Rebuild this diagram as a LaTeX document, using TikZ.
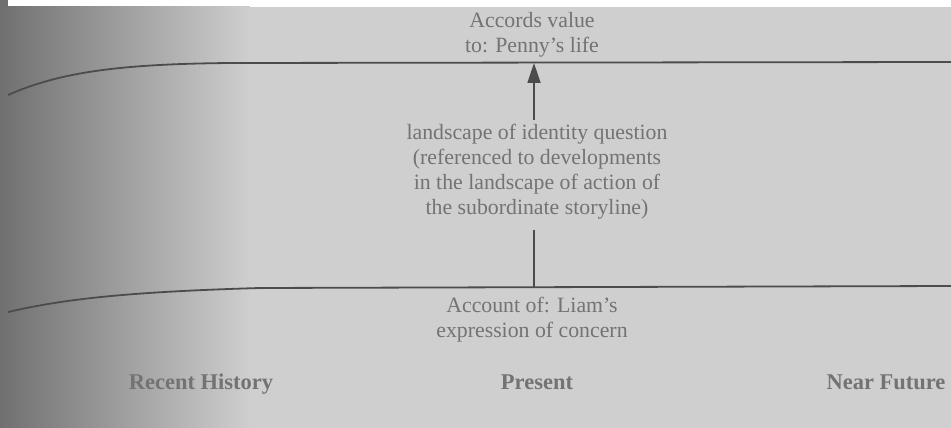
\documentclass[tikz,border=0pt]{standalone}
\usepackage{fontspec}
\setmainfont{Liberation Serif}
\usetikzlibrary{arrows.meta}
\definecolor{paper}{gray}{0.81}
\definecolor{edge}{gray}{0.44}
\definecolor{shadowmid}{gray}{0.74}
\definecolor{ink}{gray}{0.45}
\definecolor{rule}{gray}{0.30}
\tikzset{
  label text/.style={text=ink, align=center, inner sep=0pt, font=\fontsize{21.8}{25}\selectfont},
  era/.style={text=ink, inner sep=0pt, font=\fontsize{22.5}{24}\selectfont\bfseries},
  timeline/.style={draw=rule, line width=1.8pt},
  link/.style={draw=rule, line width=1.8pt},
}
\begin{document}
\begin{tikzpicture}[x=1pt, y=-1pt]
  % page and binding shadow
  \fill[white] (0,0) rectangle (951,428);
  \fill[paper] (0,7) rectangle (951,428);
  \shade[left color=edge, middle color=shadowmid, right color=paper] (0,7) rectangle (250,428);
  \fill[edge] (0,0) rectangle (8,7);
  \useasboundingbox (0,0) rectangle (951,428);

  % the two storylines
  \draw[timeline] (8,95) .. controls (60,72) and (120,64) .. (230,63) -- (951,62);
  \draw[timeline] (8,312) .. controls (60,300) and (120,292) .. (260,288) -- (951,286);

  % texts
  \node[label text] (accords) at (532,35) {Accords value\\to: Penny's life};
  \node[label text] (question) at (537,172) {landscape of identity question\\(referenced to developments\\in the landscape of action of\\the subordinate storyline)};
  \node[label text] (account) at (532,320) {Account of: Liam's\\expression of concern};
  \node[era] (recent) at (201,384) {Recent History};
  \node[era] (present) at (537,382) {Present};
  \node[era] (future) at (886,382) {Near Future};

  % connectors between the storylines
  \coordinate (upmeet) at (534,63);
  \coordinate (arrowfoot) at (534,120);
  \coordinate (lowstart) at (534,230);
  \coordinate (lowmeet) at (534,287);
  \draw[link, -{Triangle[length=20pt, width=13pt]}] (arrowfoot) -- (upmeet);
  \draw[link] (lowstart) -- (lowmeet);
\end{tikzpicture}
\end{document}
